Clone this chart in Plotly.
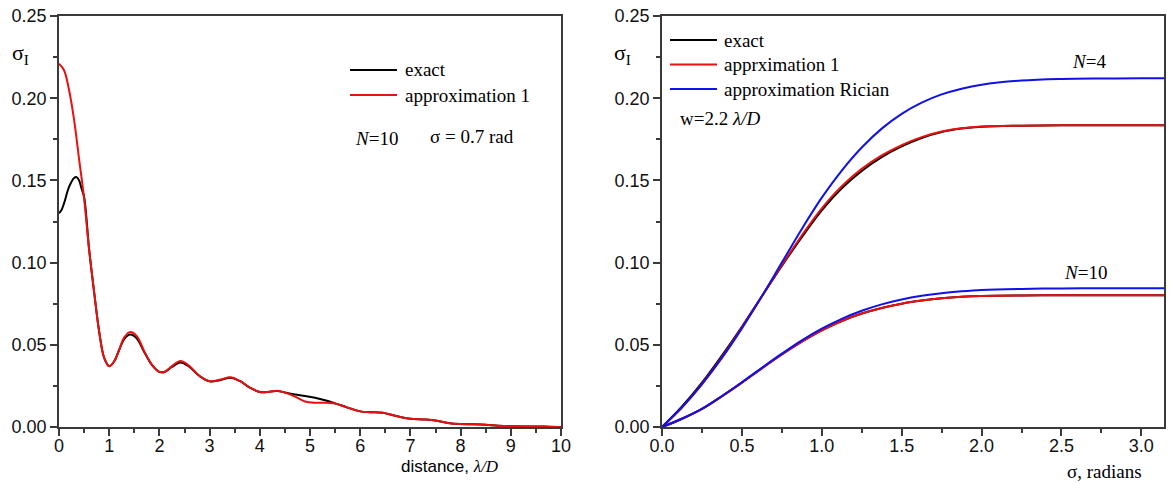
import plotly.graph_objects as go

# ---------------- Left panel data (distance, lambda/D) ----------------
dist_exact = [0.0, 0.05, 0.1, 0.2, 0.3, 0.35, 0.4, 0.45, 0.5, 0.6, 0.7, 0.8, 0.9, 1.0, 1.1, 1.2, 1.3, 1.42,
              1.55, 1.7, 1.85, 2.0, 2.1, 2.25, 2.42, 2.6, 2.8, 3.0, 3.2, 3.42, 3.6, 3.8, 4.0, 4.2, 4.35,
              4.5, 4.7, 4.9, 5.1, 5.3, 5.5, 5.75, 6.0, 6.2, 6.45, 6.7, 7.0, 7.25, 7.5, 7.75, 8.0, 8.25,
              8.5, 8.75, 9.0, 9.5, 9.75, 10.0]
sig_exact = [0.130, 0.132, 0.136, 0.146, 0.1515, 0.152, 0.150, 0.145, 0.140, 0.108, 0.082, 0.058, 0.042, 0.037,
             0.040, 0.047, 0.0535, 0.0562, 0.0538, 0.0455, 0.0378, 0.0335, 0.0335, 0.0365, 0.0393, 0.0365,
             0.031, 0.0278, 0.0285, 0.0300, 0.028, 0.024, 0.0213, 0.0215, 0.0219, 0.0210, 0.0198, 0.0189,
             0.0178, 0.0163, 0.0144, 0.0118, 0.0095, 0.0090, 0.0087, 0.0068, 0.0050, 0.0046, 0.0040,
             0.0025, 0.0018, 0.0017, 0.0014, 0.0007, 0.0004, 0.0003, 0.0002, 0.0]

dist_approx = [0.0, 0.1, 0.2, 0.3, 0.4, 0.5, 0.6, 0.7, 0.8, 0.9, 1.0, 1.1, 1.2, 1.3, 1.42, 1.55, 1.7, 1.85,
               2.0, 2.1, 2.25, 2.42, 2.6, 2.8, 3.0, 3.2, 3.42, 3.6, 3.8, 4.0, 4.2, 4.35, 4.5, 4.7, 4.9,
               5.1, 5.3, 5.5, 5.75, 6.0, 6.2, 6.45, 6.7, 7.0, 7.25, 7.5, 7.75, 8.0, 8.25, 8.5, 8.75, 9.0,
               9.5, 9.75, 10.0]
sig_approx = [0.221, 0.217, 0.205, 0.187, 0.163, 0.139, 0.108, 0.082, 0.058, 0.042, 0.037, 0.040, 0.047,
              0.0545, 0.0578, 0.0553, 0.046, 0.038, 0.0335, 0.0335, 0.0370, 0.0402, 0.0370, 0.031, 0.0278,
              0.0287, 0.0303, 0.028, 0.024, 0.0213, 0.0215, 0.0220, 0.0209, 0.0185, 0.0155, 0.0147,
              0.0148, 0.0143, 0.0118, 0.0095, 0.0090, 0.0087, 0.0068, 0.0050, 0.0046, 0.0040, 0.0025,
              0.0018, 0.0017, 0.0014, 0.0007, 0.0004, 0.0003, 0.0002, 0.0]

# ---------------- Right panel data (sigma, radians) ----------------
sigma_rad = [0.0, 0.125, 0.25, 0.375, 0.5, 0.625, 0.75, 0.875, 1.0, 1.125, 1.25, 1.375, 1.5, 1.625, 1.75,
             1.875, 2.0, 2.25, 2.5, 2.75, 3.0, 3.1416]

n4_exact = [0.0, 0.0125, 0.0270, 0.0435, 0.0610, 0.0795, 0.0980, 0.1155, 0.1318, 0.1452, 0.1558, 0.1642,
            0.1707, 0.1758, 0.1794, 0.1815, 0.1827, 0.1833, 0.1835, 0.1836, 0.1836, 0.1836]
n4_approx1 = [0.0, 0.0118, 0.0262, 0.0425, 0.0605, 0.0795, 0.0985, 0.1165, 0.1330, 0.1465, 0.1570, 0.1652,
              0.1715, 0.1763, 0.1797, 0.1817, 0.1828, 0.1833, 0.1835, 0.1836, 0.1836, 0.1836]
n4_rician = [0.0, 0.0120, 0.0260, 0.0420, 0.0600, 0.0795, 0.1000, 0.1205, 0.1395, 0.1560, 0.1700, 0.1815,
             0.1905, 0.1973, 0.2023, 0.2058, 0.2082, 0.2107, 0.2117, 0.2120, 0.2121, 0.2121]

n10_exact = [0.0, 0.0050, 0.0110, 0.0187, 0.0270, 0.0357, 0.0441, 0.0519, 0.0588, 0.0645, 0.0690, 0.0724,
             0.0750, 0.0769, 0.0783, 0.0792, 0.0797, 0.0800, 0.0801, 0.0801, 0.0801, 0.0801]
n10_approx1 = [0.0, 0.0050, 0.0110, 0.0187, 0.0270, 0.0357, 0.0441, 0.0519, 0.0588, 0.0645, 0.0690, 0.0724,
               0.0750, 0.0769, 0.0783, 0.0792, 0.0797, 0.0800, 0.0801, 0.0801, 0.0801, 0.0801]
n10_rician = [0.0, 0.0050, 0.0110, 0.0188, 0.0272, 0.0360, 0.0446, 0.0527, 0.0598, 0.0658, 0.0707, 0.0746,
              0.0776, 0.0798, 0.0814, 0.0825, 0.0833, 0.0840, 0.0843, 0.0844, 0.0844, 0.0844]

x_ticks_left = list(range(0, 11))
x_ticks_right = [0.0, 0.5, 1.0, 1.5, 2.0, 2.5, 3.0]
y_ticks = [0.0, 0.05, 0.10, 0.15, 0.20, 0.25]

legend_left = ["exact", "approximation 1"]
legend_right = ["exact", "apprximation 1", "approximation Rician"]

BLACK = "#000000"
RED = "#ea1010"
BLUE = "#1010ea"
SERIF = "Liberation Serif"
SANS = "Liberation Sans"
LW = 2


def line(color):
    return dict(color=color, width=LW, shape="spline", smoothing=1.0)


fig = go.Figure()

# left panel
fig.add_trace(go.Scatter(x=dist_exact, y=sig_exact, mode="lines", name=legend_left[0],
                         line=line(BLACK), xaxis="x", yaxis="y", showlegend=False))
fig.add_trace(go.Scatter(x=dist_approx, y=sig_approx, mode="lines", name=legend_left[1],
                         line=line(RED), xaxis="x", yaxis="y", showlegend=False))

# right panel
for ys, col, nm in [(n4_exact, BLACK, legend_right[0]), (n4_approx1, RED, legend_right[1]),
                    (n4_rician, BLUE, legend_right[2]), (n10_exact, BLACK, legend_right[0]),
                    (n10_approx1, RED, legend_right[1]), (n10_rician, BLUE, legend_right[2])]:
    fig.add_trace(go.Scatter(x=sigma_rad, y=ys, mode="lines", name=nm, line=line(col),
                             xaxis="x2", yaxis="y2", showlegend=False))

AX = "#3a3a3a"
axis_common = dict(showgrid=False, zeroline=False, showline=True, linecolor=AX, linewidth=1.6,
                   mirror=True, ticks="outside", ticklen=7, tickwidth=1.5, tickcolor=AX,
                   ticklabeloverflow="allow",
                   tickfont=dict(family=SANS, size=18, color="#111"))

fig.update_layout(
    width=1170, height=485,
    margin=dict(l=59, r=6, t=16, b=58, autoexpand=False),
    plot_bgcolor="white", paper_bgcolor="white",
    showlegend=False,
    xaxis=dict(domain=[0, 0.4543], range=[0, 10], tickvals=x_ticks_left, ticklabelstandoff=-5,
               minor=dict(dtick=0.5, ticks="outside", ticklen=4, tickcolor=AX, showgrid=False),
               anchor="y", **axis_common),
    yaxis=dict(domain=[0, 1], range=[0, 0.25], tickvals=y_ticks, tickformat=".2f",
               minor=dict(dtick=0.025, ticks="outside", ticklen=4, tickcolor=AX, showgrid=False),
               anchor="x", **axis_common),
    xaxis2=dict(domain=[0.5457, 1], range=[0, 3.1416], tickvals=x_ticks_right, tickformat=".1f",
                ticklabelstandoff=-5,
                minor=dict(dtick=0.25, ticks="outside", ticklen=4, tickcolor=AX, showgrid=False),
                anchor="y2", **axis_common),
    yaxis2=dict(domain=[0, 1], range=[0, 0.25], tickvals=y_ticks, tickformat=".2f",
                minor=dict(dtick=0.025, ticks="outside", ticklen=4, tickcolor=AX, showgrid=False),
                anchor="x2", **axis_common),
)


def px(xp):
    return (xp - 59) / 1105


def py(yp):
    return (427 - yp) / 411


ann_font = dict(family=SERIF, size=19, color="black")
shapes = []
annotations = []

# legend keys (left panel)
for i, (txt, col) in enumerate(zip(legend_left, [BLACK, RED])):
    yy = 70 + 25 * i
    shapes.append(dict(type="line", xref="paper", yref="paper", x0=px(350), x1=px(397), y0=py(yy), y1=py(yy),
                       line=dict(color=col, width=LW)))
    annotations.append(dict(text=txt, xref="paper", yref="paper", x=px(403), y=py(yy), xanchor="left",
                            yanchor="middle", showarrow=False, font=ann_font))

# legend keys (right panel)
for i, (txt, col) in enumerate(zip(legend_right, [BLACK, RED, BLUE])):
    yy = 40 + 24.5 * i
    shapes.append(dict(type="line", xref="paper", yref="paper", x0=px(670), x1=px(717), y0=py(yy), y1=py(yy),
                       line=dict(color=col, width=LW)))
    annotations.append(dict(text=txt, xref="paper", yref="paper", x=px(722), y=py(yy), xanchor="left",
                            yanchor="middle", showarrow=False, font=ann_font))

annotations += [
    dict(text="σ<sub>I</sub>", xref="paper", yref="paper", x=px(20), y=py(54), xanchor="center",
         yanchor="middle", showarrow=False, font=dict(family=SERIF, size=22, color="black")),
    dict(text="σ<sub>I</sub>", xref="paper", yref="paper", x=px(622), y=py(54), xanchor="center",
         yanchor="middle", showarrow=False, font=dict(family=SERIF, size=22, color="black")),
    dict(text="<i>N</i>=10", xref="paper", yref="paper", x=px(376), y=py(138), xanchor="center",
         yanchor="middle", showarrow=False, font=ann_font),
    dict(text="σ = 0.7 rad", xref="paper", yref="paper", x=px(472), y=py(136), xanchor="center",
         yanchor="middle", showarrow=False, font=ann_font),
    dict(text="w=2.2 <i>λ/D</i>", xref="paper", yref="paper", x=px(720), y=py(118), xanchor="center",
         yanchor="middle", showarrow=False, font=ann_font),
    dict(text="<i>N</i>=4", xref="paper", yref="paper", x=px(1089), y=py(62), xanchor="center",
         yanchor="middle", showarrow=False, font=ann_font),
    dict(text="<i>N</i>=10", xref="paper", yref="paper", x=px(1085), y=py(272), xanchor="center",
         yanchor="middle", showarrow=False, font=ann_font),
    dict(text="distance, <i><span style='font-family:Liberation Serif'>λ/D</span></i>", xref="paper",
         yref="paper", x=px(501), y=py(466), xanchor="right", yanchor="middle", showarrow=False,
         font=dict(family=SANS, size=17, color="black")),
    dict(text="σ, radians", xref="paper", yref="paper", x=px(1144), y=py(471), xanchor="right",
         yanchor="middle", showarrow=False, font=dict(family=SERIF, size=19, color="black")),
]
fig.update_layout(annotations=annotations, shapes=shapes)

fig.write_html("out.html", config={"displayModeBar": False},
               post_script="document.body.style.margin='0px';")
